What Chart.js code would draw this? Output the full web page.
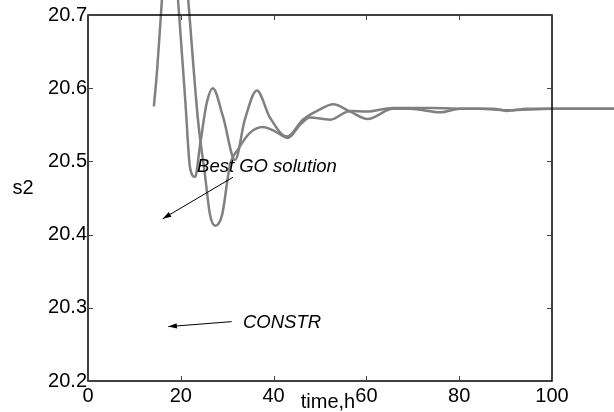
<!DOCTYPE html>
<html>
<head>
<meta charset="utf-8">
<script src="https://cdn.jsdelivr.net/npm/chart.js@4.4.1/dist/chart.umd.min.js"></script>
<style>
    body { margin: 0; background: white; }
    canvas { display: block; }
</style>
</head>
<body>
<canvas id="myChart" width="614" height="412"></canvas>
<script>
// curve with the shallow first dip (starts near t=14)
let timeA = [14.2, 14.9, 15.7, 17.6, 19.4, 21.0, 22.0, 23.1, 24.1, 25.6, 26.9, 29.1, 31.7, 33.8, 36.4, 39.2, 42.9, 46.3, 50.0, 52.8, 56.5, 60.3, 65.7, 69.4, 75.9, 80.2, 87.3, 90.3, 94.6, 100, 115];
let s2A = [20.575, 20.625, 20.699, 20.86, 20.721, 20.580, 20.491, 20.479, 20.520, 20.580, 20.600, 20.561, 20.502, 20.557, 20.597, 20.560, 20.534, 20.557, 20.571, 20.578, 20.568, 20.558, 20.572, 20.572, 20.567, 20.572, 20.572, 20.569, 20.572, 20.572, 20.572];

// curve with the deep dip (enters from above the box)
let timeB = [14.0, 18.0, 21.6, 23.7, 25.2, 26.3, 27.4, 28.9, 30.6, 32.3, 34.9, 37.7, 40.3, 43.1, 45.7, 47.8, 52.2, 56.5, 60.1, 65.7, 74.4, 80.2, 84.5, 90.3, 100, 115];
let s2B = [20.90, 21.00, 20.721, 20.557, 20.482, 20.427, 20.412, 20.427, 20.495, 20.516, 20.539, 20.547, 20.541, 20.532, 20.550, 20.560, 20.557, 20.569, 20.568, 20.573, 20.573, 20.572, 20.572, 20.570, 20.572, 20.572];

let xTicks = [0, 20, 40, 60, 80, 100];
let yTicks = [20.2, 20.3, 20.4, 20.5, 20.6, 20.7];

// annotations: [text, x, y], arrows: [fromX, fromY, toX, toY]
let notes = [['Best GO solution', 23.5, 20.486], ['CONSTR', 33.4, 20.2725]];
let arrows = [[31.25, 20.4784, 16.1, 20.4216], [30.97, 20.2811, 17.3, 20.2743]];

const FONT = '"Liberation Sans", Arial, sans-serif';
const GREY = 'rgb(128,128,128)';

function toPoints(xs, ys) {
    return xs.map((x, i) => ({ x: x, y: ys[i] }));
}

let boxPlugin = {
    id: 'box',
    afterDraw(chart) {
        let ctx = chart.ctx;
        let a = chart.chartArea;
        let xs = chart.scales.x;
        let ys = chart.scales.y;
        ctx.save();

        // frame
        ctx.strokeStyle = '#000';
        ctx.lineWidth = 1.5;
        ctx.strokeRect(a.left, a.top, a.right - a.left, a.bottom - a.top);

        // inward ticks on all four sides
        ctx.strokeStyle = '#444';
        ctx.lineWidth = 1;
        ctx.beginPath();
        xTicks.forEach(v => {
            let px = Math.round(xs.getPixelForValue(v)) + 0.5;
            ctx.moveTo(px, a.bottom); ctx.lineTo(px, a.bottom - 5);
            ctx.moveTo(px, a.top); ctx.lineTo(px, a.top + 5);
        });
        yTicks.forEach(v => {
            let py = Math.round(ys.getPixelForValue(v)) + 0.5;
            ctx.moveTo(a.left, py); ctx.lineTo(a.left + 5, py);
            ctx.moveTo(a.right, py); ctx.lineTo(a.right - 5, py);
        });
        ctx.stroke();

        // axis titles
        ctx.fillStyle = '#000';
        ctx.font = '20px ' + FONT;
        ctx.textBaseline = 'alphabetic';
        ctx.textAlign = 'center';
        ctx.fillText('time,h', 328, 408);
        ctx.fillText('s2', 23, 194);

        // annotations
        ctx.font = 'italic 18.5px ' + FONT;
        ctx.textAlign = 'left';
        notes.forEach(n => {
            ctx.fillText(n[0], xs.getPixelForValue(n[1]), ys.getPixelForValue(n[2]));
        });

        ctx.strokeStyle = '#000';
        ctx.lineWidth = 1;
        arrows.forEach(ar => {
            let x0 = xs.getPixelForValue(ar[0]), y0 = ys.getPixelForValue(ar[1]);
            let x1 = xs.getPixelForValue(ar[2]), y1 = ys.getPixelForValue(ar[3]);
            let ang = Math.atan2(y1 - y0, x1 - x0);
            ctx.beginPath();
            ctx.moveTo(x0, y0);
            ctx.lineTo(x1, y1);
            ctx.stroke();
            ctx.beginPath();
            ctx.moveTo(x1, y1);
            ctx.lineTo(x1 - 9 * Math.cos(ang - 0.3), y1 - 9 * Math.sin(ang - 0.3));
            ctx.lineTo(x1 - 9 * Math.cos(ang + 0.3), y1 - 9 * Math.sin(ang + 0.3));
            ctx.closePath();
            ctx.fill();
        });
        ctx.restore();
    }
};

let data = {
    datasets: [{
        label: 'A',
        data: toPoints(timeA, s2A),
        borderColor: GREY,
        borderWidth: 2.5,
        pointRadius: 0,
        cubicInterpolationMode: 'monotone',
        clip: false,
    }, {
        label: 'B',
        data: toPoints(timeB, s2B),
        borderColor: GREY,
        borderWidth: 2.5,
        pointRadius: 0,
        cubicInterpolationMode: 'monotone',
        clip: false,
    }]
};

let config = {
    type: 'line',
    data: data,
    options: {
        responsive: false,
        animation: false,
        devicePixelRatio: 1,
        layout: {
            padding: { top: 15, right: 62, left: 0, bottom: 0 }
        },
        plugins: {
            legend: { display: false },
            tooltip: { enabled: false }
        },
        scales: {
            x: {
                type: 'linear',
                // range set here (not min/max) so the lines keep running past 100
                afterDataLimits: scale => { scale.min = 0; scale.max = 100; },
                grid: { display: false, drawTicks: false },
                border: { display: false },
                afterFit: scale => { scale.height = 31; },
                afterBuildTicks: scale => { scale.ticks = xTicks.map(v => ({ value: v })); },
                ticks: {
                    color: '#000',
                    padding: 3,
                    maxRotation: 0,
                    autoSkip: false,
                    font: { family: FONT, size: 20 }
                }
            },
            y: {
                type: 'linear',
                min: 20.2,
                max: 20.7,
                grid: { display: false, drawTicks: false },
                border: { display: false },
                afterFit: scale => { scale.width = 88; },
                afterBuildTicks: scale => { scale.ticks = yTicks.map(v => ({ value: v })); },
                ticks: {
                    color: '#000',
                    padding: 1,
                    autoSkip: false,
                    font: { family: FONT, size: 20 },
                    callback: v => v.toFixed(1)
                }
            }
        }
    },
    plugins: [boxPlugin]
};

let myChart = new Chart(
    document.getElementById('myChart'),
    config
);
</script>
</body>
</html>
